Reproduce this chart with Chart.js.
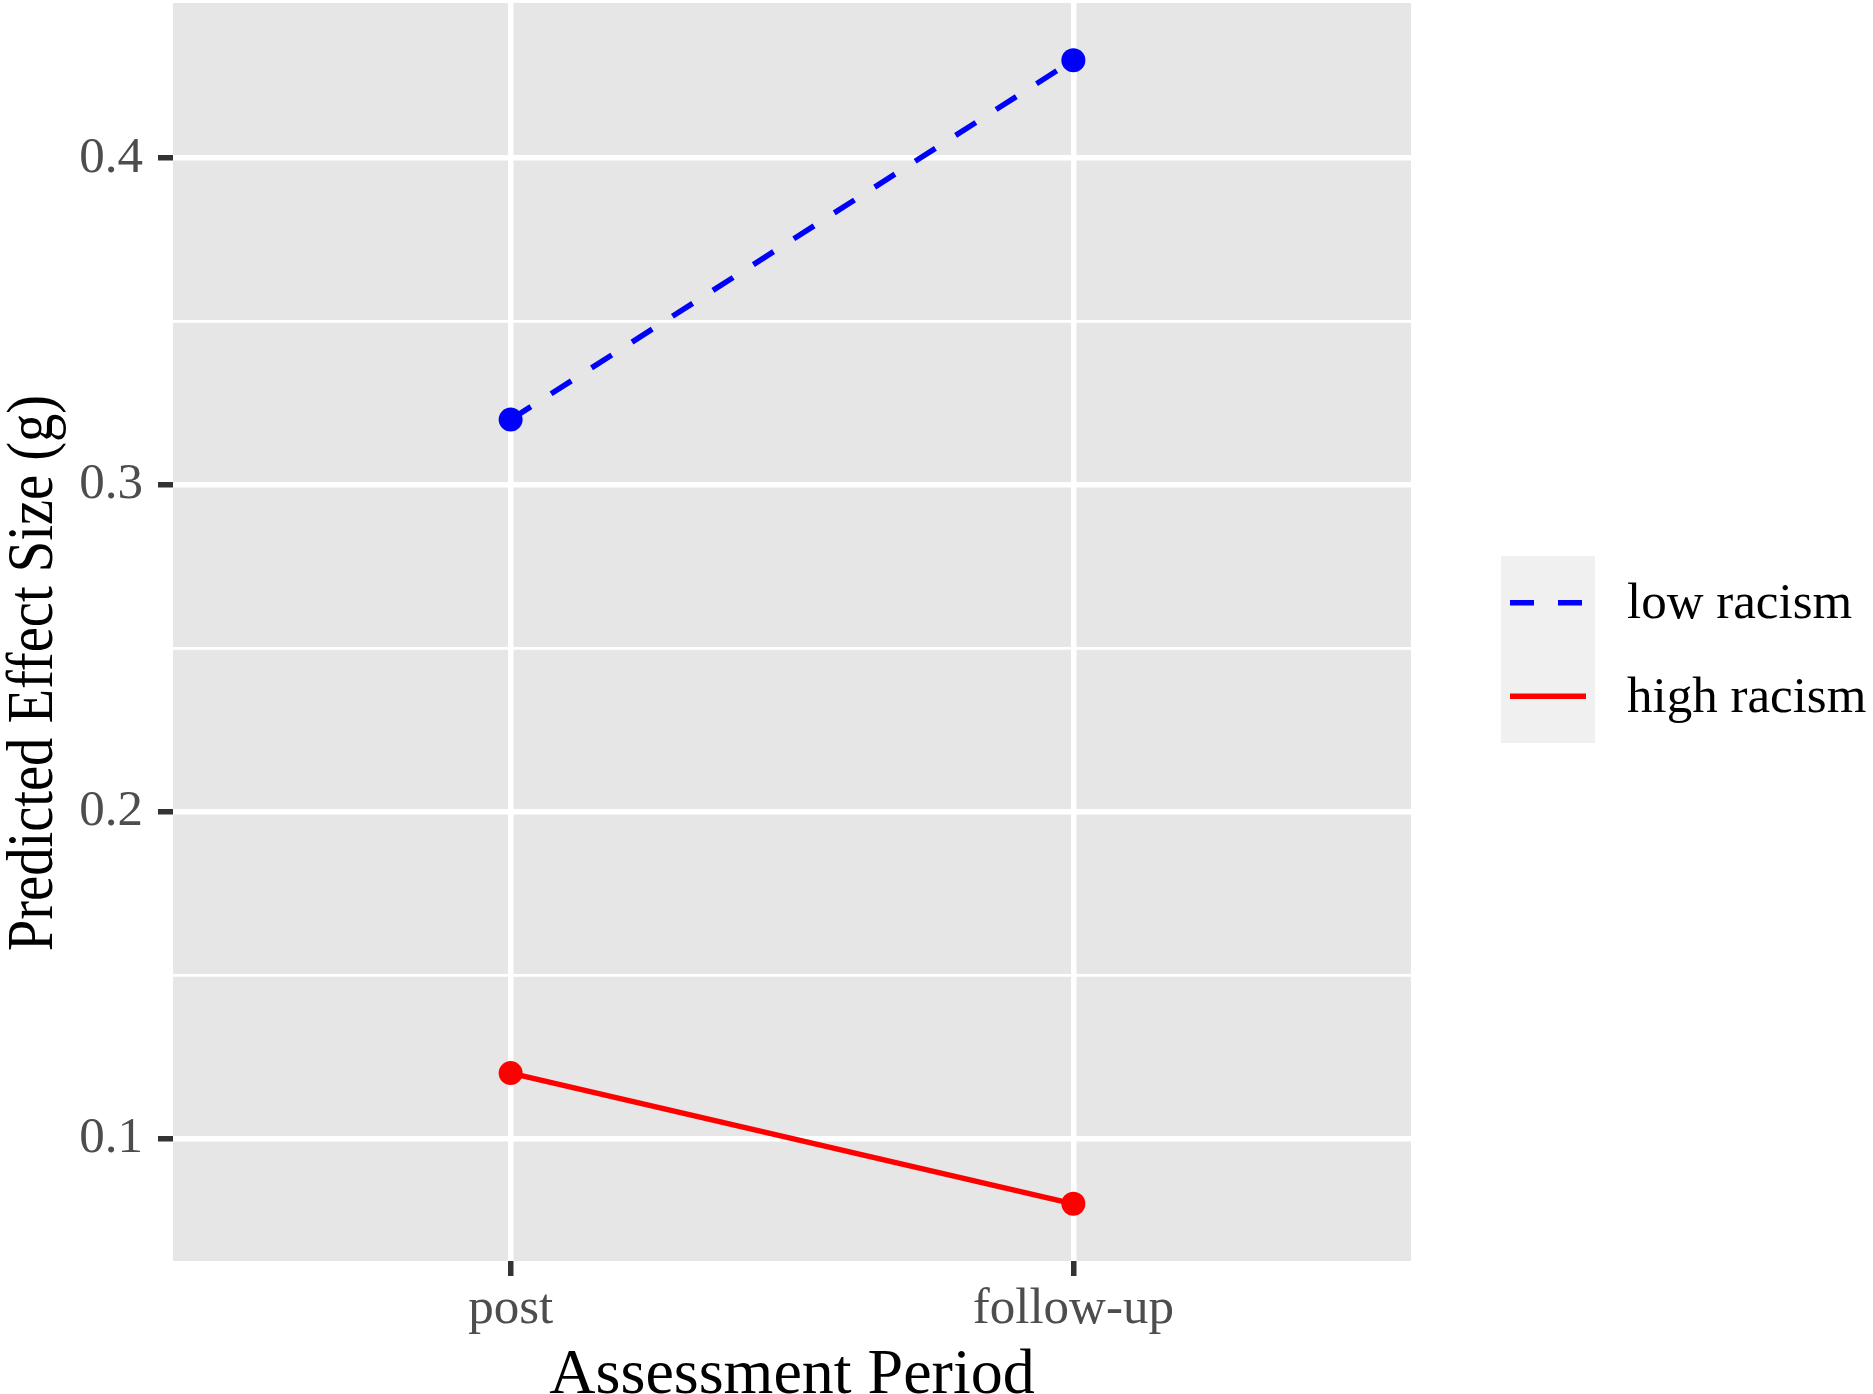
<!DOCTYPE html>
<html>
<head>
<meta charset="utf-8">
<title>Predicted Effect Size</title>
<script src="https://cdn.jsdelivr.net/npm/chart.js@4.4.1/dist/chart.umd.min.js"></script>
<style>
  html, body { margin: 0; padding: 0; background: #ffffff; }
  canvas { display: block; }
</style>
</head>
<body>
<canvas id="effectChart" width="1873" height="1394"></canvas>
<script>
// data
const categories = ['post', 'follow-up'];
const seriesNames = ['low racism', 'high racism'];
const lowRacism = [0.32, 0.43];
const highRacism = [0.12, 0.08];
const yMajorTicks = [0.1, 0.2, 0.3, 0.4];
const yMinorTicks = [0.15, 0.25, 0.35];
const yTitle = 'Predicted Effect Size (g)';
const xTitle = 'Assessment Period';

const SERIF = '"Liberation Serif", "DejaVu Serif", serif';
const PANEL = '#e6e6e6';

// ggplot-like limits: 5% on the continuous axis, 0.6 units on the discrete one
const allVals = lowRacism.concat(highRacism);
const dMin = Math.min(...allVals), dMax = Math.max(...allVals);
const yMin = dMin - 0.05 * (dMax - dMin);
const yMax = dMax + 0.05 * (dMax - dMin);

const isMajor = v => yMajorTicks.some(t => Math.abs(t - v) < 1e-9);
const toPoints = arr => arr.map((y, i) => ({ x: i + 1, y: y }));

const panelBg = {
    id: 'panelBg',
    beforeDraw(chart) {
        const { ctx, chartArea: a } = chart;
        ctx.save();
        ctx.fillStyle = PANEL;
        ctx.fillRect(a.left, a.top, a.right - a.left, a.bottom - a.top);
        ctx.restore();
    }
};

// y title drawn by hand: the original sits a bit below the panel centre
// and its glyphs are slightly narrower than Liberation Serif
const yTitlePlugin = {
    id: 'yTitle',
    afterDraw(chart) {
        const { ctx } = chart;
        ctx.save();
        ctx.translate(52, 673);
        ctx.rotate(-Math.PI / 2);
        ctx.scale(0.87, 1);
        ctx.fillStyle = '#000000';
        ctx.font = '65px ' + SERIF;
        ctx.textAlign = 'center';
        ctx.textBaseline = 'alphabetic';
        ctx.fillText(yTitle, 0, 0);
        ctx.restore();
    }
};

// legend drawn by hand to get the grey key boxes
const ggLegend = {
    id: 'ggLegend',
    afterDraw(chart) {
        const { ctx, chartArea: a } = chart;
        const boxX = a.right + 90, boxW = 94, rowH = 93.5;
        const boxY = 556;
        const sets = chart.data.datasets;
        ctx.save();
        ctx.fillStyle = '#f0f0f0';
        ctx.fillRect(boxX, boxY, boxW, rowH * sets.length);
        sets.forEach((ds, i) => {
            const cy = boxY + rowH * i + rowH / 2;
            ctx.strokeStyle = ds.borderColor;
            ctx.lineWidth = ds.borderWidth;
            ctx.setLineDash(ds.borderDash || []);
            ctx.beginPath();
            ctx.moveTo(boxX + 9, cy);
            ctx.lineTo(boxX + 85, cy);
            ctx.stroke();
            ctx.setLineDash([]);
            ctx.fillStyle = '#000000';
            ctx.font = '51px ' + SERIF;
            ctx.textBaseline = 'middle';
            ctx.textAlign = 'left';
            ctx.fillText(ds.label, boxX + 126, cy + 2);
        });
        ctx.restore();
    }
};

new Chart(document.getElementById('effectChart'), {
    type: 'line',
    data: {
        datasets: [{
            label: seriesNames[0],
            data: toPoints(lowRacism),
            borderColor: '#0000ff',
            backgroundColor: '#0000ff',
            borderWidth: 5.5,
            borderDash: [24, 24],
            pointRadius: 12,
            pointBorderWidth: 0,
            pointBackgroundColor: '#0000ff'
        }, {
            label: seriesNames[1],
            data: toPoints(highRacism),
            borderColor: '#ff0000',
            backgroundColor: '#ff0000',
            borderWidth: 5.5,
            pointRadius: 12,
            pointBorderWidth: 0,
            pointBackgroundColor: '#ff0000'
        }]
    },
    options: {
        responsive: false,
        animation: false,
        events: [],
        layout: { autoPadding: false, padding: { top: 3, right: 462, left: 0, bottom: 0 } },
        plugins: { legend: { display: false }, tooltip: { enabled: false } },
        scales: {
            x: {
                type: 'linear',
                min: 0.4,
                max: 2.6,
                afterBuildTicks: s => { s.ticks = categories.map((c, i) => ({ value: i + 1 })); },
                afterFit: s => { s.height = 133; s.paddingLeft = 0; s.paddingRight = 0; },
                border: { display: false },
                grid: { color: '#ffffff', lineWidth: 5.5, tickColor: '#333333', tickWidth: 5.5, tickLength: 15 },
                ticks: {
                    autoSkip: false, maxRotation: 0, padding: 3,
                    color: '#4d4d4d', font: { family: SERIF, size: 51 },
                    callback: v => categories[Math.round(v) - 1]
                },
                title: {
                    display: true, text: xTitle, color: '#000000',
                    font: { family: SERIF, size: 64, lineHeight: 0.56 }, padding: 0
                }
            },
            y: {
                min: yMin,
                max: yMax,
                afterBuildTicks: s => {
                    s.ticks = yMajorTicks.concat(yMinorTicks).sort((p, q) => p - q).map(v => ({ value: v }));
                },
                afterFit: s => { s.width = 173; s.paddingTop = 0; s.paddingBottom = 0; },
                border: { display: false },
                grid: {
                    color: '#ffffff',
                    lineWidth: c => (c.tick && isMajor(c.tick.value)) ? 5.5 : 2.8,
                    tickColor: c => (c.tick && isMajor(c.tick.value)) ? '#333333' : 'rgba(0,0,0,0)',
                    tickWidth: 5.5,
                    tickLength: 15
                },
                ticks: {
                    autoSkip: false, padding: 15,
                    color: '#4d4d4d', font: { family: SERIF, size: 51 },
                    callback: v => isMajor(v) ? v.toFixed(1) : ''
                },
                title: { display: false }
            }
        }
    },
    plugins: [panelBg, yTitlePlugin, ggLegend]
});
</script>
</body>
</html>
